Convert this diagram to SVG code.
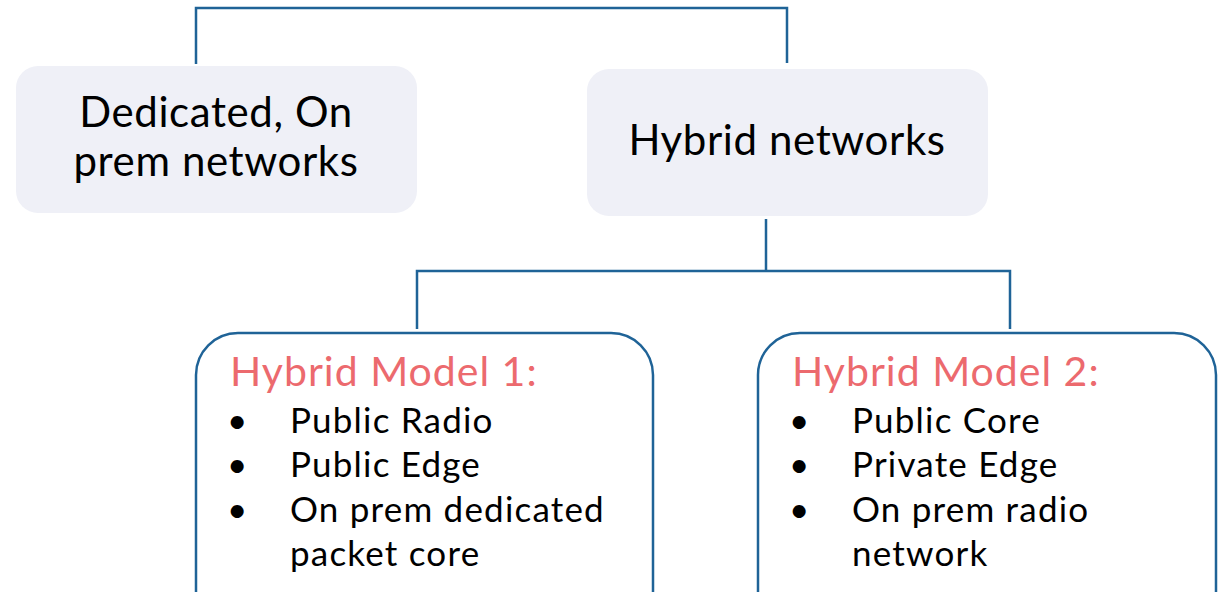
<svg xmlns="http://www.w3.org/2000/svg" width="1221" height="592" viewBox="0 0 1221 592">
<style>
.soft{fill:#EFF0F7;}
.out{fill:#FFFFFF;stroke:#1F6397;stroke-width:2.5;}
.conn{fill:none;stroke:#1F6397;stroke-width:2.5;}
text{font-family:Lato,"Open Sans",sans-serif;fill:#000;}
.big{font-size:42px;letter-spacing:0.6px;}
.head{font-size:41px;letter-spacing:1px;fill:#EC6A6E;}
.item{font-size:35px;letter-spacing:1.2px;}
</style>
<rect width="1221" height="592" fill="#FFFFFF"/>
<g id="connectors">
<polyline class="conn" points="196,64 196,8 787,8 787,63"/>
<polyline class="conn" points="766,219 766,271"/>
<polyline class="conn" points="417,329 417,271 1010,271 1010,329"/>
</g>
<g id="dedicated">
<rect class="soft" x="16" y="66" width="401" height="147" rx="22"/>
<text class="big" x="216" y="127" text-anchor="middle">Dedicated, On</text>
<text class="big" x="216" y="176" text-anchor="middle">prem networks</text>
</g>
<g id="hybrid">
<rect class="soft" x="587" y="69" width="401" height="147" rx="22"/>
<text class="big" x="787" y="155" text-anchor="middle">Hybrid networks</text>
</g>
<g id="model1">
<rect class="out" x="196" y="333" width="457" height="300" rx="42"/>
<text class="head" x="230" y="386">Hybrid Model 1:</text>
<text class="item" x="227" y="433">•</text>
<text class="item" x="290" y="433">Public Radio</text>
<text class="item" x="227" y="477">•</text>
<text class="item" x="290" y="477">Public Edge</text>
<text class="item" x="227" y="522">•</text>
<text class="item" x="290" y="522">On prem dedicated</text>
<text class="item" x="290" y="566">packet core</text>
</g>
<g id="model2">
<rect class="out" x="758" y="333" width="458" height="300" rx="42"/>
<text class="head" x="792" y="386">Hybrid Model 2:</text>
<text class="item" x="789" y="433">•</text>
<text class="item" x="852" y="433">Public Core</text>
<text class="item" x="789" y="477">•</text>
<text class="item" x="852" y="477">Private Edge</text>
<text class="item" x="789" y="522">•</text>
<text class="item" x="852" y="522">On prem radio</text>
<text class="item" x="852" y="566">network</text>
</g>
</svg>
